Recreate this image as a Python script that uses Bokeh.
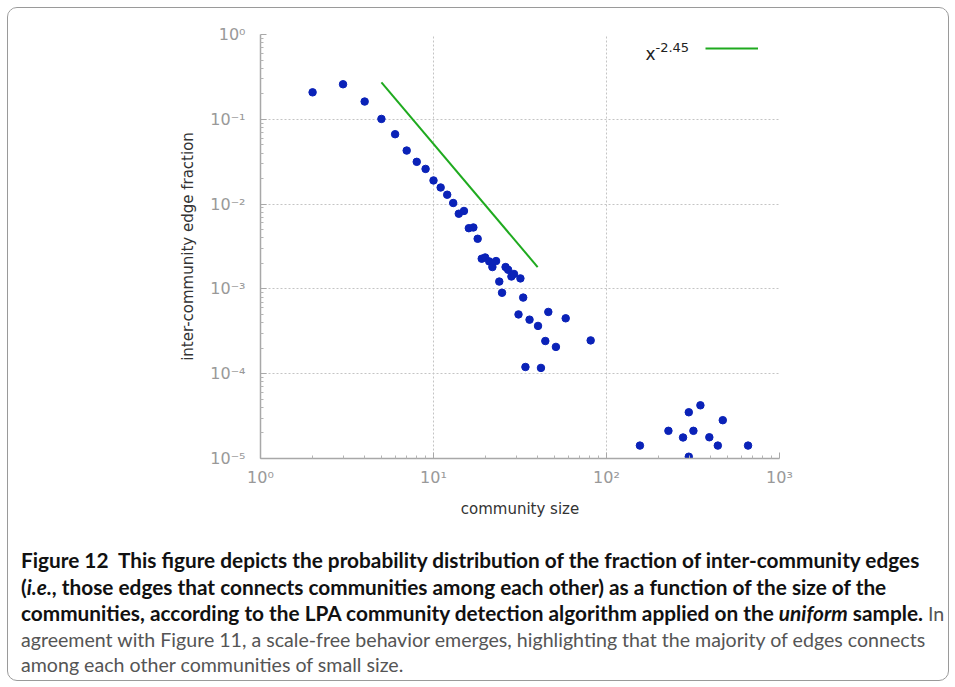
from bokeh.plotting import figure
from bokeh.models import FixedTicker, Legend, LegendItem, Label, Div
from bokeh.layouts import column
from bokeh.embed import file_html
from bokeh.resources import INLINE

# ---- data ----
community_size = [2, 3, 4, 5, 6, 7, 8, 9, 10, 11, 12, 13, 14, 15, 16, 17, 18,
                  19, 19.9, 21, 21.9, 23, 24, 24.9, 26.1, 27, 28.2, 29.2, 31.8, 33,
                  31, 35.9, 40.2, 46.1, 58.1, 44.3, 51, 81, 34, 41.8,
                  156, 228, 277, 299, 318, 349, 299, 393, 440, 470, 658]
edge_fraction = [0.208, 0.259, 0.162, 0.101, 0.0667, 0.0428, 0.0315, 0.026, 0.019,
                 0.0157, 0.0129, 0.0103, 0.0077, 0.0083, 0.0052, 0.0053, 0.0039,
                 0.00227, 0.00235, 0.00211, 0.00181, 0.00213, 0.00122, 0.0009,
                 0.00181, 0.00168, 0.0014, 0.0015, 0.00133, 0.00079,
                 0.0005, 0.000434, 0.000366, 0.000535, 0.00045, 0.000243, 0.000207,
                 0.000247, 0.00012, 0.000117,
                 1.42e-5, 2.12e-5, 1.77e-5, 3.51e-5, 2.12e-5, 4.24e-5, 1.05e-5,
                 1.78e-5, 1.42e-5, 2.83e-5, 1.42e-5]
fit_x = [5, 40]
fit_y = [0.272, 0.00181]
fit_label = "x"
fit_exponent = "-2.45"

x_ticks = [1, 10, 100, 1000]
x_tick_labels = ["10\u2070", "10\u00b9", "10\u00b2", "10\u00b3"]
y_ticks = [1e-5, 1e-4, 1e-3, 1e-2, 1e-1, 1]
y_tick_labels = ["10\u207b\u2075", "10\u207b\u2074", "10\u207b\u00b3",
                 "10\u207b\u00b2", "10\u207b\u00b9", "10\u2070"]
x_minor = [m * d for d in [1, 10, 100] for m in range(2, 10)]
y_minor = [m * d for d in [1e-5, 1e-4, 1e-3, 1e-2, 1e-1] for m in range(2, 10)]

x_label = "community size"
y_label = "inter-community edge fraction"

# ---- figure ----
p = figure(width=938, height=520, x_axis_type="log", y_axis_type="log",
           x_range=(1, 1000), y_range=(1e-5, 1),
           output_backend="svg", toolbar_location=None,
           min_border_left=252, min_border_right=167,
           min_border_top=26, min_border_bottom=70)
p.outline_line_color = None
p.background_fill_color = "white"
p.border_fill_color = "white"

xt = FixedTicker(ticks=x_ticks, minor_ticks=x_minor)
yt = FixedTicker(ticks=y_ticks, minor_ticks=y_minor)
p.xaxis.ticker = xt
p.yaxis.ticker = yt
p.xgrid.ticker = xt
p.ygrid.ticker = yt
p.xaxis.major_label_overrides = dict(zip(x_ticks, x_tick_labels))
p.yaxis.major_label_overrides = dict(zip(y_ticks, y_tick_labels))

for g in (p.xgrid, p.ygrid):
    g.grid_line_color = "#c4c4c4"
    g.grid_line_dash = "2 2"
    g.grid_line_width = 1

for ax in (p.xaxis[0], p.yaxis[0]):
    ax.axis_line_color = "#a8a8a8"
    ax.axis_line_width = 1.5
    ax.major_tick_line_color = "#a8a8a8"
    ax.major_tick_in = 6
    ax.major_tick_out = 0
    ax.minor_tick_line_color = "#b4b4b4"
    ax.minor_tick_in = 3
    ax.minor_tick_out = 0
    ax.major_label_text_color = "#999999"
    ax.major_label_text_font = "DejaVu Sans"
    ax.major_label_text_font_size = "16px"
    ax.axis_label_text_font = "DejaVu Sans"
    ax.axis_label_text_font_size = "15px"
    ax.axis_label_text_font_style = "normal"
    ax.axis_label_text_color = "#333333"
    ax.axis_label_standoff = 10

p.xaxis.axis_label = x_label
p.yaxis.axis_label = y_label
p.xaxis.major_label_standoff = 9
p.yaxis.major_label_standoff = 15

p.scatter(community_size, edge_fraction, size=7.5, color="#0a22b8",
          line_color="#0a22b8")
fit = p.line(fit_x, fit_y, line_color="#1faa1f", line_width=2)

legend = Legend(items=[LegendItem(label=" ", renderers=[fit])],
                location=(445, 400), glyph_width=53, glyph_height=20,
                label_width=0, label_standoff=0, padding=0, margin=0,
                spacing=0, border_line_color=None, background_fill_alpha=0)
p.add_layout(legend)
p.add_layout(Label(x=385, y=405, x_units="screen", y_units="screen",
                   text=fit_label, text_font="DejaVu Sans",
                   text_font_size="17px", text_color="#222222",
                   text_baseline="alphabetic"))
p.add_layout(Label(x=395, y=411, x_units="screen", y_units="screen",
                   text=fit_exponent, text_font="DejaVu Sans",
                   text_font_size="13px", text_color="#222222",
                   text_baseline="alphabetic"))

bold = 'style="color:#111; font-size:20.8px;"'
caption = (
    '<div style="font-family:Lato; font-size:19.6px; line-height:25.6px; '
    'white-space:nowrap; margin-left:8px; margin-top:14px; color:#555;">'
    f'<b {bold}>Figure 12&nbsp; This figure depicts the probability '
    'distribution of the fraction of inter-community edges</b><br>'
    f'<b {bold}>(<i>i.e.</i>, those edges that connects communities '
    'among each other) as a function of the size of the</b><br>'
    f'<b {bold}>communities, according to the LPA community detection '
    'algorithm applied on the <i>uniform</i> sample.</b> In<br>'
    'agreement with Figure 11, a scale-free behavior emerges, highlighting that '
    'the majority of edges connects<br>'
    'among each other communities of small size.'
    '</div>'
)
div = Div(text=caption, width=940, height=152)

layout = column(p, div, width=940, height=672, sizing_mode="fixed",
                styles={"border": "1px solid #9a9a9a",
                        "border-radius": "10px",
                        "box-sizing": "content-box",
                        "overflow": "hidden",
                        "margin": "7px",
                        "background": "white"})

open("out.html", "w").write(file_html(layout, INLINE))
